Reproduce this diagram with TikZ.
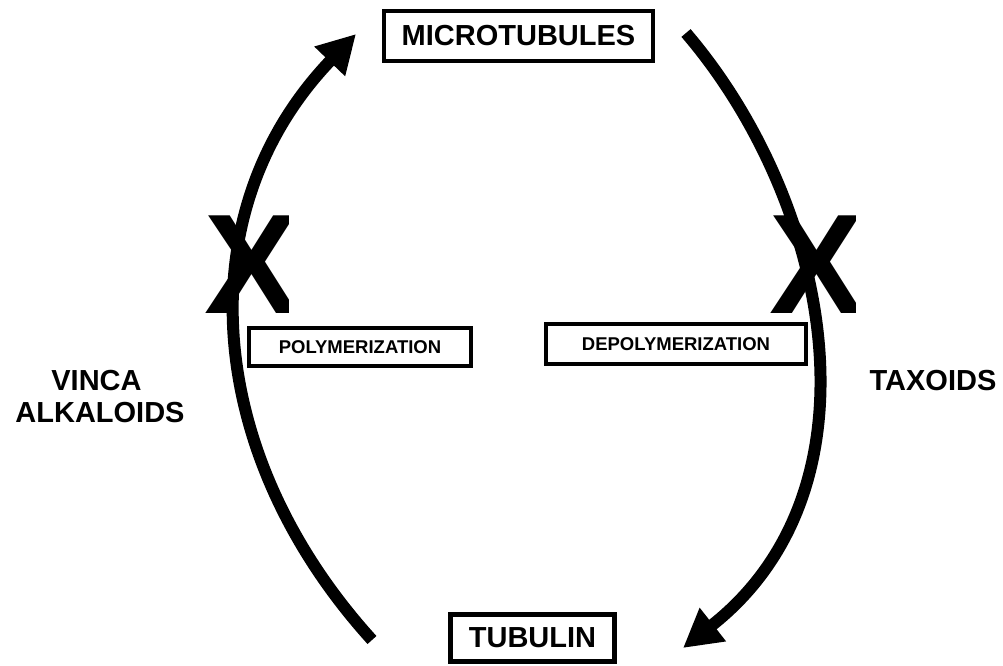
\documentclass[tikz,border=0pt]{standalone}
\usepackage{fontspec}
\setmainfont{Liberation Sans}
\usetikzlibrary{arrows.meta}
\begin{document}
\begin{tikzpicture}[x=1pt,y=-1pt,
  box/.style={draw=black, line width=4.5pt, inner sep=0pt, font=\bfseries\fontsize{29}{32}\selectfont},
  smallbox/.style={draw=black, line width=4.5pt, inner sep=0pt, font=\bfseries\fontsize{18.5}{20}\selectfont},
  lbl/.style={inner sep=0pt, font=\bfseries\fontsize{29}{32}\selectfont, align=center},
  cyc/.style={line width=12pt, line cap=butt},
  tip/.style={-{Triangle[width=40pt,length=38pt]}},
  xmark/.style={inner sep=0pt, anchor=base west, font=\bfseries\fontsize{142}{142}\selectfont}]
\useasboundingbox (0,0) rectangle (1003,665);

% blocking marks
\begin{scope}
  \clip (190,200) rectangle (288,330);
  \node[xmark] (xl) at (204,313) {X};
\end{scope}
\begin{scope}
  \clip (760,200) rectangle (855,330);
  \node[xmark] (xr) at (769,313) {X};
\end{scope}

% boxes
\node[box, minimum width=269pt, minimum height=50pt] (mt) at (518.5,36) {MICROTUBULES};
\node[box, minimum width=164pt, minimum height=47pt] (tub) at (532.5,638) {TUBULIN};
\node[smallbox, minimum width=222pt, minimum height=38pt] (poly) at (360,347) {POLYMERIZATION};
\node[smallbox, minimum width=260pt, minimum height=40pt] (depoly) at (676,344) {DEPOLYMERIZATION};

% drug labels
\node[lbl, anchor=north] (vinca) at (100,370) {VINCA\hspace*{7pt}\\ALKALOIDS};
\node[lbl] (tax) at (933,381) {TAXOIDS};

% cycle arrows
\coordinate (l0) at (372,640);
\coordinate (l1) at (205,456);
\coordinate (l2) at (184,213);
\coordinate (l3) at (356,34);
\draw[cyc,tip] (l0) .. controls (l1) and (l2) .. (l3);

\coordinate (r0) at (686,33);
\coordinate (r1) at (829,200);
\coordinate (r2) at (888,487);
\coordinate (r3) at (683,648);
\draw[cyc,tip] (r0) .. controls (r1) and (r2) .. (r3);
\end{tikzpicture}
\end{document}
